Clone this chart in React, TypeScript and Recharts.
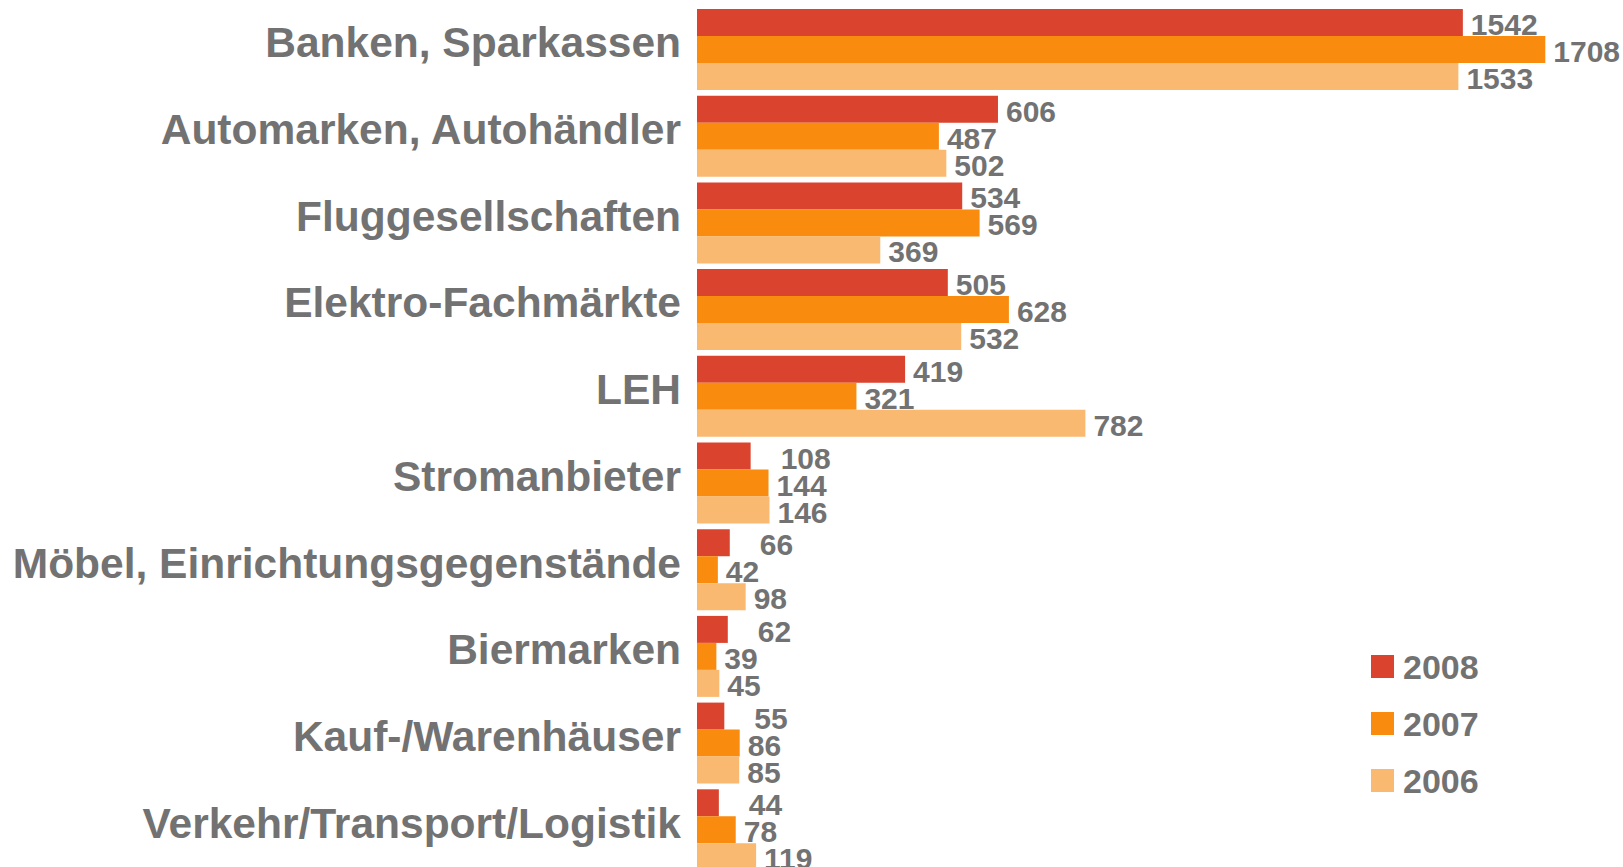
import { BarChart, Bar, XAxis, YAxis, LabelList } from "recharts";

const categories = [
  "Banken, Sparkassen",
  "Automarken, Autohändler",
  "Fluggesellschaften",
  "Elektro-Fachmärkte",
  "LEH",
  "Stromanbieter",
  "Möbel, Einrichtungsgegenstände",
  "Biermarken",
  "Kauf-/Warenhäuser",
  "Verkehr/Transport/Logistik",
];
const values2008 = [1542, 606, 534, 505, 419, 108, 66, 62, 55, 44];
const values2007 = [1708, 487, 569, 628, 321, 144, 42, 39, 86, 78];
const values2006 = [1533, 502, 369, 532, 782, 146, 98, 45, 85, 119];

const series = [
  { key: "y2008", name: "2008", color: "#DA432E" },
  { key: "y2007", name: "2007", color: "#F98B0F" },
  { key: "y2006", name: "2006", color: "#FAB970" },
];

const data = categories.map((name, i) => ({
  name,
  y2008: values2008[i],
  y2007: values2007[i],
  y2006: values2006[i],
}));

const GRAY = "#727272";
const FONT = "'Liberation Sans', Arial, sans-serif";

function CategoryTick({ x, y, payload }: any) {
  return (
    <text x={x} y={y} dy={8} textAnchor="end" fill={GRAY}
      style={{ fontFamily: FONT, fontWeight: 700, fontSize: 42.5 }}>
      {payload.value}
    </text>
  );
}

// the red labels of the short bars sit a bit further out, as in the original
function makeLabel(nudgeSmall: boolean) {
  return (props: any) => {
    const { x, y, width, height, value } = props;
    const off = nudgeSmall && value < 200 ? 30 : 8;
    return (
      <text x={x + width + off} y={y + height / 2 + 12.5} fill={GRAY}
        style={{ fontFamily: FONT, fontWeight: 700, fontSize: 30 }}>
        {value}
      </text>
    );
  };
}

// legend drawn outside the chart so it takes no room from the plot
function LegendBox() {
  return (
    <div style={{ position: "absolute", left: 1371, top: 638, fontFamily: FONT }}>
      {series.map((s) => (
        <div key={s.key} style={{ display: "flex", alignItems: "center", height: 57 }}>
          <div style={{ width: 23, height: 23, background: s.color, marginRight: 9 }} />
          <span style={{ color: GRAY, fontWeight: 700, fontSize: 34, lineHeight: "34px" }}>{s.name}</span>
        </div>
      ))}
    </div>
  );
}

export default function App() {
  return (
    <div style={{ position: "fixed", left: 0, top: 0, width: 1623, height: 867, overflow: "hidden", background: "#fff" }}>
      <BarChart layout="vertical" width={1623} height={873} data={data}
        margin={{ top: 6, right: 32, bottom: 0, left: 0 }} barSize={27} barGap={0}>
        <XAxis type="number" domain={[0, 1800]} hide />
        <YAxis type="category" dataKey="name" width={697} axisLine={false} tickLine={false}
          tickSize={0} tickMargin={16} interval={0} tick={<CategoryTick />} />
        {series.map((s, i) => (
          <Bar key={s.key} dataKey={s.key} name={s.name} fill={s.color} isAnimationActive={false}>
            <LabelList dataKey={s.key} content={makeLabel(i === 0)} />
          </Bar>
        ))}
      </BarChart>
      <LegendBox />
    </div>
  );
}
